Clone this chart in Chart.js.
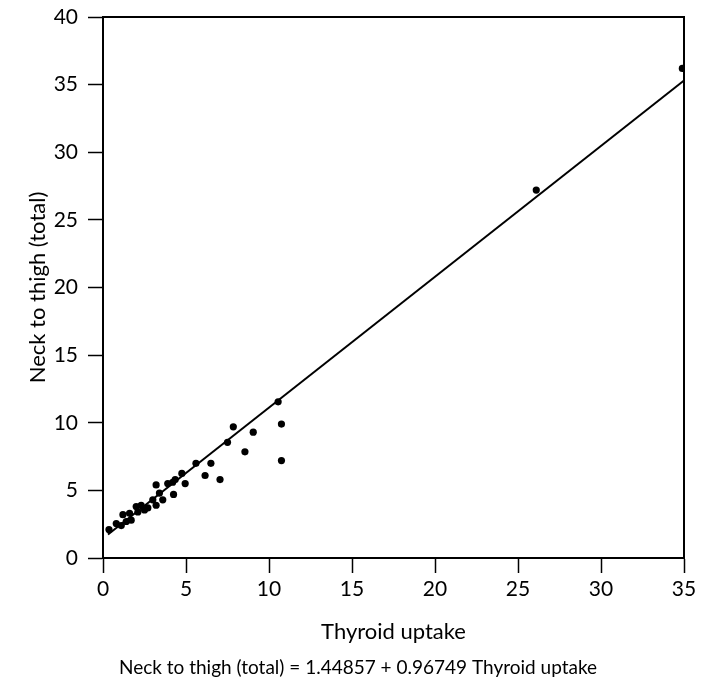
<!DOCTYPE html>
<html>
<head>
<meta charset="utf-8">
<script src="https://cdn.jsdelivr.net/npm/chart.js@4/dist/chart.umd.min.js"></script>
<style>
  html, body { margin: 0; padding: 0; background: #fff; }
  #wrap { width: 712px; height: 684px; position: relative; }
</style>
</head>
<body>
<div id="wrap"><canvas id="c" width="712" height="684"></canvas></div>
<script>
// ---- data ----
const thyroidUptake = [0.36, 0.8, 1.1, 1.2, 1.4, 1.7, 1.6, 2.0, 2.1, 2.3, 2.5, 2.7, 3.0, 3.2, 3.2, 3.4, 3.6, 3.9, 4.2, 4.25, 4.35, 4.75, 4.95, 5.6, 6.15, 6.5, 7.05, 7.5, 7.85, 8.55, 9.05, 10.55, 10.75, 10.75, 26.1, 34.9];
const neckToThigh   = [2.1, 2.55, 2.4, 3.2, 2.7, 2.8, 3.3, 3.8, 3.4, 3.9, 3.55, 3.7, 4.3, 3.9, 5.4, 4.8, 4.3, 5.5, 5.6, 4.7, 5.8, 6.25, 5.5, 7.0, 6.1, 7.0, 5.8, 8.55, 9.7, 7.85, 9.3, 11.55, 9.9, 7.2, 27.2, 36.2];
const fitLineX = [0.3, 35];
const fitLineY = [1.74, 35.3];
const xTicks = [0, 5, 10, 15, 20, 25, 30, 35];
const yTicks = [0, 5, 10, 15, 20, 25, 30, 35, 40];
const xTitle = 'Thyroid uptake';
const yTitle = 'Neck to thigh (total)';
const equation = 'Neck to thigh (total) = 1.44857 + 0.96749 Thyroid uptake';

const scatterPts = thyroidUptake.map((x, i) => ({ x: x, y: neckToThigh[i] }));
const linePts = fitLineX.map((x, i) => ({ x: x, y: fitLineY[i] }));

const FONT = 'Lato, "Noto Sans", sans-serif';

const frame = {
  id: 'frame',
  afterDraw(chart) {
    const a = chart.chartArea, ctx = chart.ctx;
    ctx.save();
    ctx.strokeStyle = '#000';
    ctx.lineWidth = 2;
    ctx.beginPath();
    ctx.moveTo(a.left, a.top);
    ctx.lineTo(a.right, a.top);
    ctx.lineTo(a.right, a.bottom);
    ctx.stroke();
    // regression equation caption below the axis title
    ctx.fillStyle = '#000';
    ctx.font = '19px ' + FONT;
    ctx.textAlign = 'center';
    ctx.textBaseline = 'middle';
    ctx.fillText(equation, 358, 668);
    ctx.restore();
  }
};

new Chart(document.getElementById('c'), {
  data: {
    datasets: [
      {
        type: 'line',
        data: linePts,
        borderColor: '#000',
        borderWidth: 2,
        pointRadius: 0,
        fill: false,
        tension: 0
      },
      {
        type: 'scatter',
        data: scatterPts,
        backgroundColor: '#000',
        borderColor: '#000',
        borderWidth: 0,
        pointRadius: 3.6
      }
    ]
  },
  options: {
    responsive: false,
    animation: false,
    devicePixelRatio: 1,
    layout: { padding: { left: 0, right: 28, top: 17, bottom: 26.8 } },
    plugins: {
      legend: { display: false },
      tooltip: { enabled: false },
      title: { display: false }
    },
    scales: {
      x: {
        type: 'linear',
        min: 0, max: 35,
        afterBuildTicks: (s) => { s.ticks = xTicks.map(v => ({ value: v })); },
        afterFit: (s) => { s.height = 99.2; },
        ticks: { color: '#000', font: { family: FONT, size: 21 }, padding: 4, maxRotation: 0 },
        grid: { display: true, drawOnChartArea: false, drawTicks: true, tickLength: 15, color: '#000', tickWidth: 1.5 },
        border: { display: true, color: '#000', width: 2 },
        title: { display: true, text: xTitle, color: '#000', font: { family: FONT, size: 22, lineHeight: 1.2 }, padding: { top: 4, bottom: 12 } }
      },
      y: {
        type: 'linear',
        min: 0, max: 40,
        afterBuildTicks: (s) => { s.ticks = yTicks.map(v => ({ value: v })); },
        afterFit: (s) => { s.width = 103; s.paddingTop = 0; s.paddingBottom = 0; },
        ticks: { color: '#000', font: { family: FONT, size: 21 }, padding: 10 },
        grid: { display: true, drawOnChartArea: false, drawTicks: true, tickLength: 15, color: '#000', tickWidth: 1.5 },
        border: { display: true, color: '#000', width: 2 },
        title: { display: true, text: yTitle, color: '#000', font: { family: FONT, size: 22, lineHeight: 1.2 }, padding: { top: 25, bottom: 0 } }
      }
    }
  },
  plugins: [frame]
});
</script>
</body>
</html>
